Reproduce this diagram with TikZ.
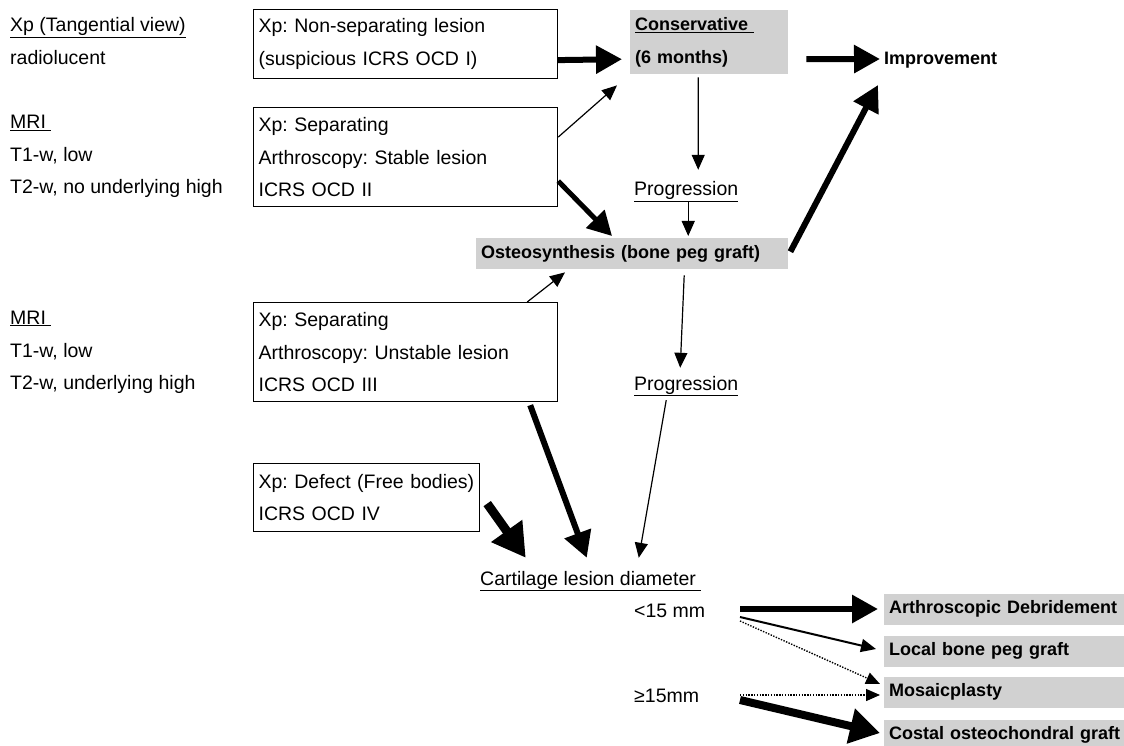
\documentclass[tikz,border=0pt]{standalone}
\usepackage{fontspec}
\setmainfont{Liberation Sans}
\usetikzlibrary{calc,arrows.meta}
\frenchspacing

\tikzset{
	txt/.style={anchor=west, inner sep=0pt, text height=14pt, text depth=4pt, font=\fontsize{19.5}{32.5}\selectfont},
	lesionbox/.style={draw, line width=1.2pt, anchor=north west, align=left, inner xsep=5pt, inner ysep=0pt, font=\fontsize{19.5}{32.5}\selectfont},
	greybox/.style={fill=black!18, align=left, inner xsep=5pt, inner ysep=0pt, font=\bfseries\fontsize{18}{33}\selectfont},
	thinarr/.style={line width=1.2pt, -{Triangle[length=15pt,width=13pt]}},
	dotarr/.style={line width=1.4pt, dash pattern=on 1.4pt off 1.4pt, -{Triangle[length=14pt,width=12pt]}},
	fatarr/.style={line width=6pt, -{Triangle[length=26pt,width=27pt]}},
	hugearr/.style={line width=9pt, -{Triangle[length=33pt,width=36pt]}},
}

\begin{document}
\begin{tikzpicture}[x=1pt, y=-1pt]
	%%%%% START %%%%%
	\useasboundingbox[fill=white] (0,0) rectangle (1124,746);

	% findings
	\node[txt] (xp) at (10,27) {\underline{Xp (Tangential view)}};
	\node[txt] (radio) at (10,60) {radiolucent};
	\node[txt] (mriA) at (10,124) {\underline{MRI\ }};
	\node[txt] (tlowA) at (10,157) {T1-w, low};
	\node[txt] (thighA) at (10,189) {T2-w, no underlying high};
	\node[txt] (mriB) at (10,319) {\underline{MRI\ }};
	\node[txt] (tlowB) at (10,352) {T1-w, low};
	\node[txt] (thighB) at (10,384) {T2-w, underlying high};

	% stages
	\node[lesionbox, text width=294pt, minimum height=69pt] (box1) at (253,9)
		{Xp: Non-separating lesion\\(suspicious ICRS OCD I)};
	\node[lesionbox, text width=294pt, minimum height=99pt] (box2) at (253,107)
		{Xp: Separating\\Arthroscopy: Stable lesion\\ICRS OCD II};
	\node[lesionbox, text width=294pt, minimum height=99pt] (box3) at (253,302)
		{Xp: Separating\\Arthroscopy: Unstable lesion\\ICRS OCD III};
	\node[lesionbox, text width=216pt, minimum height=68pt] (box4) at (253,463)
		{Xp: Defect (Free bodies)\\ICRS OCD IV};

	% treatments
	\node[greybox, anchor=north west, text width=148pt, minimum height=64pt] (cons) at (630,10)
		{\underline{Conservative\ }\\(6 months)};
	\node[txt, font=\bfseries\fontsize{18}{33}\selectfont] (impr) at (884,60) {Improvement};
	\node[txt] (progA) at (634,191) {\underline{Progression}};
	\node[greybox, anchor=north west, text width=302pt, minimum height=31pt] (osteo) at (476,238)
		{Osteosynthesis (bone peg graft)};
	\node[txt] (progB) at (634,385) {\underline{Progression}};
	\node[txt] (cart) at (480,580) {\underline{Cartilage lesion diameter\ }};
	\node[txt] (lt15) at (634,612) {<15 mm};
	\node[txt] (ge15) at (634,697) {≥15mm};

	\node[greybox, anchor=west, text width=235pt, minimum height=31pt] (debr) at (884,609) {Arthroscopic Debridement};
	\node[greybox, anchor=west, text width=235pt, minimum height=31pt] (local) at (884,651) {Local bone peg graft};
	\node[greybox, anchor=west, text width=235pt, minimum height=31pt] (mosaic) at (884,692) {Mosaicplasty};
	\node[greybox, anchor=west, text width=235pt, minimum height=31pt] (costal) at (884,735) {Costal osteochondral graft};

	\coordinate (lo) at ($(lt15.west)+(106,0)$);
	\coordinate (hi) at ($(ge15.west)+(106,-2)$);

	% arrows
	\draw[fatarr] ($(box1.east)+(0,16)$) -- ($(cons.west)+(-8,17)$);
	\draw[fatarr] ($(cons.east)+(18,17)$) -- ($(impr.west)+(-4,-1)$);
	\draw[thinarr] ($(cons.south)+(-11,3)$) -- ($(progA.north)+(12,-12)$);
	\draw[thinarr] ($(progA.south)+(2,2)$) -- ($(osteo.north -| progA.south)+(2,-2)$);
	\draw[thinarr] ($(box2.east)+(0,-20)$) -- ($(cons.south west)+(-13,11)$);
	\draw[line width=5pt, -{Triangle[length=24pt,width=25pt]}] ($(box2.east)+(0,24)$) -- ($(osteo.north west)+(136,-2)$);
	\draw[fatarr] ($(osteo.east)+(2,-2)$) -- ($(impr.west)+(-6,25)$);
	\draw[thinarr] ($(box3.north east)+(-31,0)$) -- ($(osteo.south west)+(89,3)$);
	\draw[thinarr] ($(osteo.south)+(52,6)$) -- ($(progB.north)+(-6,-8)$);
	\draw[thinarr] ($(progB.south)+(-20,6)$) -- ($(cart.north)+(48,-13)$);
	\draw[fatarr] ($(box3.south east)+(-28,3)$) -- ($(cart.north)+(-4,-13)$);
	\draw[hugearr] ($(box4.east)+(7,6)$) -- ($(cart.north)+(-65,-13)$);

	\draw[fatarr] (lo |- debr.west) -- ($(debr.west)+(-6,0)$);
	\draw[line width=2pt, -{Triangle[length=15pt,width=13pt]}] ($(lo)+(0,5)$) -- ($(local.west)+(-8,-2)$);
	\draw[dotarr] ($(lo)+(0,9)$) -- ($(mosaic.west)+(-4,-8)$);
	\draw[dotarr] (hi) -- ($(mosaic.west)+(-4,3)$);
	\draw[line width=8pt, -{Triangle[length=30pt,width=34pt]}] ($(hi)+(0,5)$) -- ($(costal.west)+(-4,-2)$);
	%%%%% END %%%%%
\end{tikzpicture}
\end{document}
